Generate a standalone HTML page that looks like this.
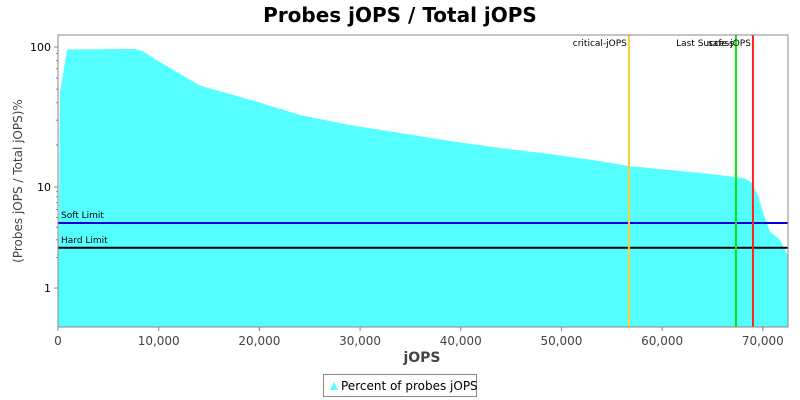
<!DOCTYPE html>
<html><head><meta charset="utf-8"><style>
body{margin:0;background:#fff;font-family:"Liberation Sans","DejaVu Sans",sans-serif}
svg{display:block}
</style></head><body>
<svg id="chart" width="800" height="400" xmlns="http://www.w3.org/2000/svg">
<rect width="800" height="400" fill="#fff"/>
<text x="400" y="22" text-anchor="middle" font-size="20" font-weight="bold" font-family="DejaVu Sans, sans-serif">Probes jOPS / Total jOPS</text>
<g id="plot"></g>
<text x="422" y="362" text-anchor="middle" font-size="14" font-weight="bold" font-family="DejaVu Sans, sans-serif" fill="#444">jOPS</text>
<text transform="translate(22,181) rotate(-90)" text-anchor="middle" font-size="12" font-family="DejaVu Sans, sans-serif" fill="#444">(Probes jOPS / Total jOPS)%</text>
<g>
<rect x="323.5" y="374.5" width="153" height="22" fill="#fff" stroke="#888"/>
<path d="M330 390 L334 382 L338 390 Z" fill="#55ffff"/>
<text x="341" y="390" font-size="12" font-family="DejaVu Sans, sans-serif">Percent of probes jOPS</text>
</g>
</svg>
<script>
const xs=[0,200,900,7650,8440,10130,14100,19070,24030,29000,33960,38930,43890,48860,53820,56700,63750,68120,68920,69510,70010,70710,71700,72490];
const ys=[0.5,47,96,97,93,78,53,42,32.7,27.7,24.3,21.3,19,17.2,15.3,14.1,12.6,11.6,10.7,8.3,5.65,3.6,3.0,2.1];
const xTicks=[0,10000,20000,30000,40000,50000,60000,70000];
const yTicks=[1,10,100];
const markerNames=["critical-jOPS","Last Success","safe-jOPS"];
const markerValues=[56700,67330,69020];
const markerColors=["#ffcc33","#00ee00","#ff2222"];
const limitNames=["Soft Limit","Hard Limit"];
const limitValues=[4.4,2.5];
const limitColors=["#0000dd","#000"];
const L=58,R=788,T=35,B=327,XMAX=72500;
const NS="http://www.w3.org/2000/svg";
function X(v){return L+v/XMAX*(R-L);}
function Y(v){const l=Math.log10(v);return l>=1?187-(l-1)*140:288-l*101;}
const g=document.getElementById('plot');
function mk(t,a,p){const e=document.createElementNS(NS,t);for(const k in a)e.setAttribute(k,a[k]);(p||g).appendChild(e);return e;}
mk('rect',{x:L,y:T,width:R-L,height:B-T,fill:'#fff'});
let d='M'+X(0)+' '+B;
for(let i=0;i<xs.length;i++)d+=' L'+X(xs[i]).toFixed(1)+' '+Math.min(B,Y(ys[i])).toFixed(1);
d+=' L'+X(xs[xs.length-1])+' '+B+' Z';
const area=mk('path',{d:d,fill:'#55ffff'});


limitValues.forEach((v,i)=>{
 const y=Y(v);
 const ln=mk('line',{x1:L,x2:R,y1:y,y2:y,stroke:limitColors[i],'stroke-width':2});
 
 
 const t=mk('text',{x:L+3,y:y-5,'font-size':9,'font-family':'DejaVu Sans, sans-serif'});t.textContent=limitNames[i];
 
 
});
markerValues.forEach((v,i)=>{
 const x=X(v);
 const ln=mk('line',{x1:x,x2:x,y1:T,y2:B,stroke:markerColors[i],'stroke-width':2});
 
 
 const t=mk('text',{x:x-2,y:T+11,'text-anchor':'end','font-size':9,'font-family':'DejaVu Sans, sans-serif'});t.textContent=markerNames[i];
 
 
});
mk('rect',{x:L,y:T,width:R-L,height:B-T,fill:'none',stroke:'#888'});
xTicks.forEach(v=>{
 const x=X(v);
 mk('line',{x1:x,x2:x,y1:B,y2:B+4,stroke:'#888'});
 const t=mk('text',{x:x,y:B+18,'text-anchor':'middle','font-size':12,fill:'#444','font-family':'DejaVu Sans, sans-serif'});
 t.textContent=v.toLocaleString('en-US');
 
 
});
yTicks.forEach(v=>{
 const y=Y(v);
 mk('line',{x1:L-4,x2:L,y1:y,y2:y,stroke:'#888'});
 const t=mk('text',{x:L-7,y:y+4,'text-anchor':'end','font-size':11,'font-family':'DejaVu Sans, sans-serif'});
 t.textContent=String(v);
 
 
 for(let m=2;m<10;m++){const mv=v*m;if(mv>120)break;const my=Y(mv);mk('line',{x1:L-2,x2:L,y1:my,y2:my,stroke:'#888'});}
});
</script>
</body></html>
